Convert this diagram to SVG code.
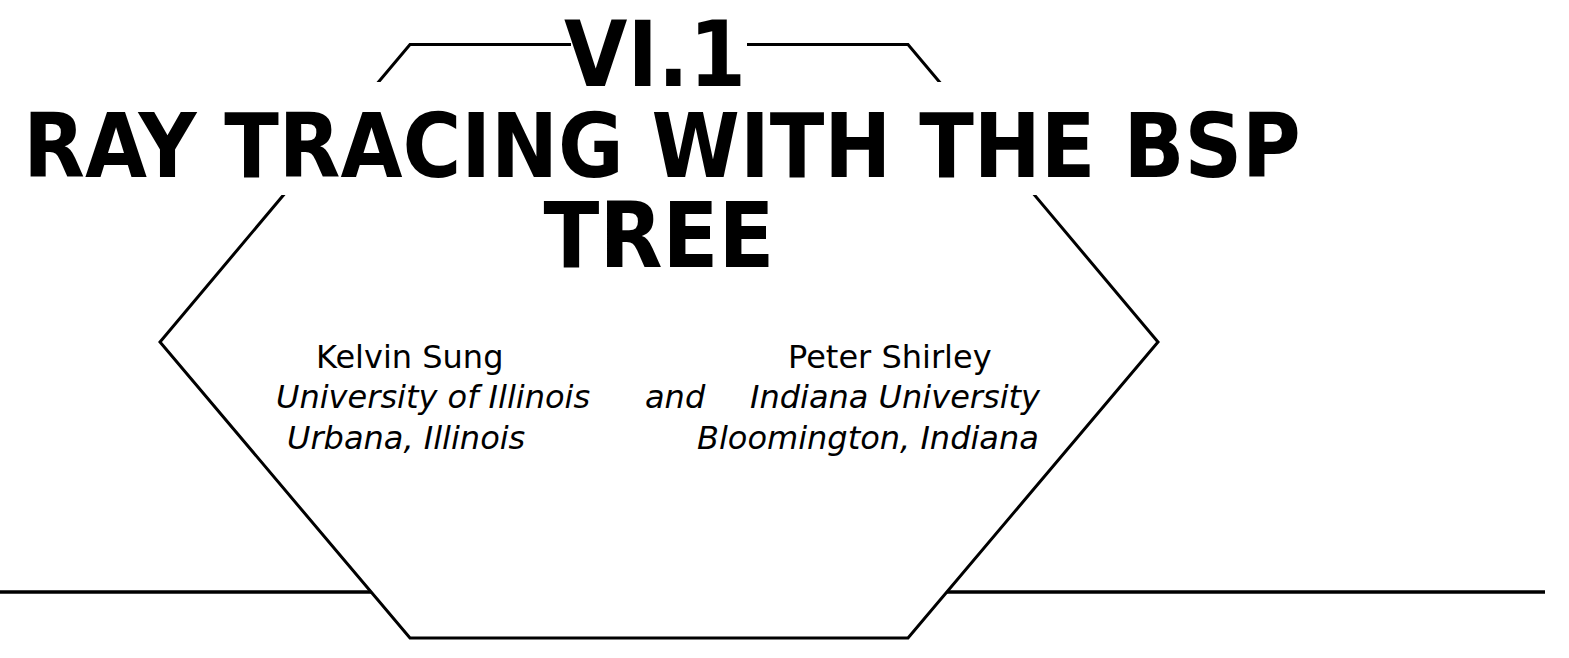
<svg xmlns="http://www.w3.org/2000/svg" width="1569" height="658" viewBox="0 0 1569 658">
  <style>
    .frame { fill: none; stroke: #000; stroke-width: 3; stroke-linejoin: miter; }
    .rule { stroke: #000; stroke-width: 3.5; }
    .mask { fill: #fff; }
    .title { font-family: "DejaVu Sans Condensed", "DejaVu Sans", sans-serif; font-stretch: condensed; font-weight: bold; font-size: 91px; fill: #000; text-anchor: middle; }
    .name { font-family: "DejaVu Sans", sans-serif; font-size: 32px; fill: #000; }
    .aff { font-family: "DejaVu Sans", sans-serif; font-style: italic; font-size: 32px; fill: #000; }
  </style>
  <rect width="1569" height="658" fill="#fff"/>
  <g id="frame">
    <polygon class="frame" points="410,44.5 908,44.5 1158,342 908,638 410,638 160,342"/>
  </g>
  <g id="rule">
    <line class="rule" x1="0" y1="592" x2="371" y2="592"/>
    <line class="rule" x1="947" y1="592" x2="1545" y2="592"/>
  </g>
  <g id="title">
    <rect class="mask" x="571" y="0" width="176" height="82"/>
    <rect class="mask" x="15" y="82" width="1295" height="113"/>
    <text class="title" x="655" y="86">VI.1</text>
    <text class="title" x="662" y="177" style="font-size:89px">RAY TRACING WITH THE BSP</text>
    <text class="title" x="659" y="267">TREE</text>
  </g>
  <g id="author-sung">
    <text class="name" x="316" y="368">Kelvin Sung</text>
    <text class="aff" x="276" y="408">University of Illinois</text>
    <text class="aff" x="287" y="449">Urbana, Illinois</text>
  </g>
  <g id="conjunction">
    <text class="aff" x="645" y="408">and</text>
  </g>
  <g id="author-shirley">
    <text class="name" x="788" y="368">Peter Shirley</text>
    <text class="aff" x="750" y="408">Indiana University</text>
    <text class="aff" x="697" y="449">Bloomington, Indiana</text>
  </g>
</svg>
